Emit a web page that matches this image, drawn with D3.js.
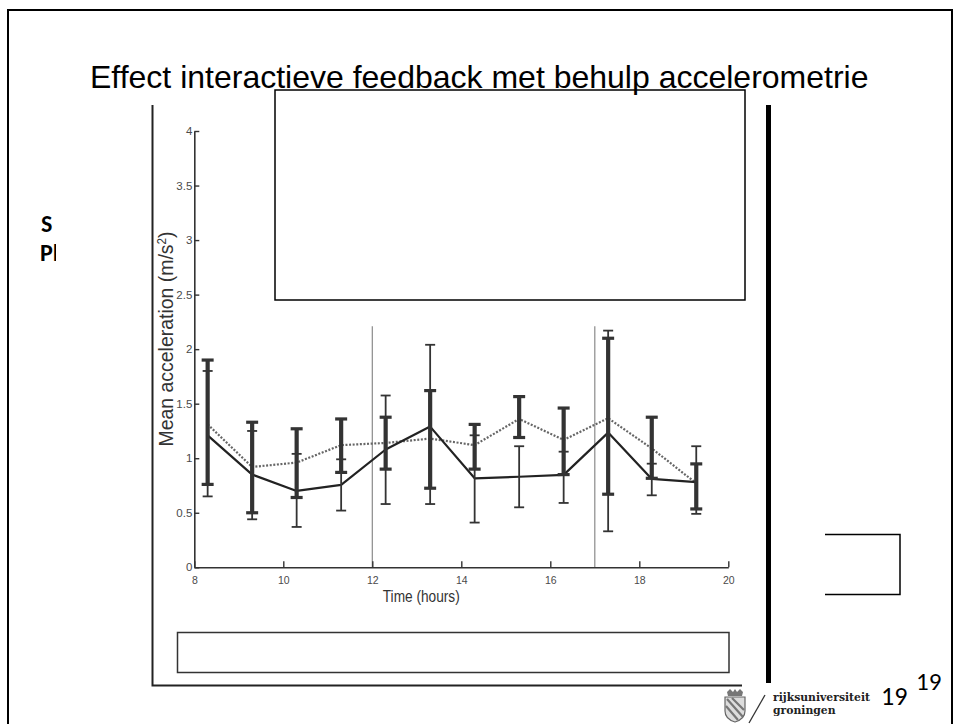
<!DOCTYPE html>
<html>
<head>
<meta charset="utf-8">
<script src="https://cdn.jsdelivr.net/npm/d3@7"></script>
<style>
  html, body { margin: 0; padding: 0; background: #fff; }
  svg { display: block; }
</style>
</head>
<body>
<svg id="slide" width="954" height="724"></svg>
<script>
// Measurement times (hours of the day)
const hours = [8.3, 9.3, 10.3, 11.3, 12.3, 13.3, 14.3, 15.3, 16.3, 17.3, 18.28, 19.28];

// Solid series: mean acceleration with thin error bars
const solidMean = [1.21, 0.85, 0.70, 0.755, 1.08, 1.29, 0.816, 0.83, 0.847, 1.235, 0.81, 0.78];
const solidLow  = [0.65, 0.44, 0.37, 0.52, 0.58, 0.58, 0.41, 0.55, 0.59, 0.33, 0.66, 0.49];
const solidHigh = [1.80, 1.25, 1.04, 0.99, 1.575, 2.04, 1.21, 1.11, 1.06, 2.17, 0.95, 1.11];

// Dotted series: mean acceleration with heavy error bars
const dottedMean = [1.31, 0.92, 0.96, 1.12, 1.14, 1.18, 1.12, 1.36, 1.168, 1.367, 1.09, 0.77];
const dottedLow  = [0.76, 0.50, 0.64, 0.87, 0.90, 0.725, 0.90, 1.19, 0.85, 0.67, 0.816, 0.535];
const dottedHigh = [1.90, 1.33, 1.27, 1.36, 1.376, 1.62, 1.31, 1.565, 1.46, 2.10, 1.376, 0.948];

// Feedback moments marked by vertical lines
const markerHours = [12, 17];

// Axis ticks
const xTicks = [8, 10, 12, 14, 16, 18, 20];
const xTickLabels = ["8", "10", "12", "14", "16", "18", "20"];
const yTicks = [0, 0.5, 1, 1.5, 2, 2.5, 3, 3.5, 4];
const yTickLabels = ["0", "0.5", "1", "1.5", "2", "2.5", "3", "3.5", "4"];

const svg = d3.select("#slide");
const SANS = "'Liberation Sans', Arial, Helvetica, sans-serif";
const BODY = "Carlito, 'Open Sans', sans-serif";

// slide frame
svg.append("rect").attr("x", 8).attr("y", 10).attr("width", 944).attr("height", 800)
  .attr("fill", "#fff").attr("stroke", "#000").attr("stroke-width", 2);

// partially hidden bullet text on the left
const clip = svg.append("defs").append("clipPath").attr("id", "leftclip");
clip.append("rect").attr("x", 0).attr("y", 0).attr("width", 56).attr("height", 724);
const leftText = svg.append("g").attr("clip-path", "url(#leftclip)")
  .attr("font-family", BODY).attr("font-weight", "bold")
  .attr("font-size", 24).attr("fill", "#000");
leftText.append("text").attr("x", 41).attr("y", 232).text("S");
leftText.append("text").attr("x", 40).attr("y", 261).text("Pl");

// chart scales
const x = d3.scaleLinear().domain([8, 20]).range([194.3, 728.3]);
const y = d3.scaleLinear().domain([0, 4]).range([567.3, 131]);

const plot = svg.append("g");

// figure frame (left edge and bottom edge)
plot.append("path").attr("d", "M152.5,105 V685.5 H742")
  .attr("fill", "none").attr("stroke", "#222").attr("stroke-width", 2);

// vertical marker lines
plot.selectAll("line.marker").data(markerHours).join("line")
  .attr("class", "marker")
  .attr("x1", d => x(d)).attr("x2", d => x(d))
  .attr("y1", y(2.21)).attr("y2", y(0))
  .attr("stroke", "#8a8a8a").attr("stroke-width", 1.2);

// axes
const xAxis = d3.axisBottom(x).tickValues(xTicks)
  .tickFormat((d, i) => xTickLabels[i]).tickSizeInner(-6).tickSizeOuter(0).tickPadding(9);
const gx = plot.append("g").attr("transform", `translate(0,${y(0)})`).call(xAxis);
const yAxis = d3.axisLeft(y).tickValues(yTicks)
  .tickFormat((d, i) => yTickLabels[i]).tickSizeInner(-5).tickSizeOuter(0).tickPadding(4);
const gy = plot.append("g").attr("transform", `translate(${x(8)},0)`).call(yAxis);

[gx, gy].forEach(g => {
  g.select(".domain").attr("stroke", "#333").attr("stroke-width", 1.6);
  g.selectAll(".tick line").attr("stroke", "#333").attr("stroke-width", 1.4);
  g.selectAll(".tick text").attr("font-family", SANS).attr("fill", "#4a4a4a");
});
gx.selectAll(".tick text").attr("font-size", 10.5);
gy.selectAll(".tick text").attr("font-size", 11.5).attr("dx", 2);

// axis titles
plot.append("text")
  .attr("x", (x(13.1))).attr("y", 602)
  .attr("text-anchor", "middle")
  .attr("font-family", SANS).attr("font-size", 16).attr("fill", "#333")
  .attr("textLength", 77).attr("lengthAdjust", "spacingAndGlyphs")
  .text("Time (hours)");

const yl = plot.append("text")
  .attr("transform", "translate(172.5,339) rotate(-90)")
  .attr("text-anchor", "middle")
  .attr("font-family", SANS).attr("font-size", 20).attr("fill", "#333")
  .attr("textLength", 215).attr("lengthAdjust", "spacingAndGlyphs");
yl.append("tspan").text("Mean acceleration (m/s");
yl.append("tspan").attr("font-size", 12).attr("dy", -7).text("2");
yl.append("tspan").attr("dy", 7).text(")");

// mean lines
const line = d3.line().x(d => x(d[0])).y(d => y(d[1]));
plot.append("path").datum(hours.map((h, i) => [h, dottedMean[i]]))
  .attr("d", line).attr("fill", "none")
  .attr("stroke", "#666").attr("stroke-width", 2.2).attr("stroke-dasharray", "2,1.6");
plot.append("path").datum(hours.map((h, i) => [h, solidMean[i]]))
  .attr("d", line).attr("fill", "none")
  .attr("stroke", "#222").attr("stroke-width", 2.2).attr("stroke-linejoin", "round");

// error bars
function errorBars(lo, hi, cls, barW, capW, capH) {
  const data = hours.map((h, i) => ({ h, lo: lo[i], hi: hi[i] }));
  const g = plot.append("g").attr("class", cls).attr("stroke", "#333");
  g.selectAll("line.bar").data(data).join("line").attr("class", "bar")
    .attr("x1", d => x(d.h)).attr("x2", d => x(d.h))
    .attr("y1", d => y(d.lo)).attr("y2", d => y(d.hi))
    .attr("stroke-width", barW);
  ["lo", "hi"].forEach(k => {
    g.selectAll("line.cap-" + k).data(data).join("line").attr("class", "cap-" + k)
      .attr("x1", d => x(d.h) - capW / 2).attr("x2", d => x(d.h) + capW / 2)
      .attr("y1", d => y(d[k])).attr("y2", d => y(d[k]))
      .attr("stroke-width", capH);
  });
}
errorBars(solidLow, solidHigh, "thin", 1.8, 10, 1.8);
errorBars(dottedLow, dottedHigh, "thick", 4.2, 12, 3.2);

// overlay boxes on the slide
svg.append("rect").attr("x", 275).attr("y", 90).attr("width", 470).attr("height", 210)
  .attr("fill", "#fff").attr("stroke", "#000").attr("stroke-width", 1.5);
svg.append("rect").attr("x", 177.5).attr("y", 632.5).attr("width", 551.5).attr("height", 40)
  .attr("fill", "#fff").attr("stroke", "#333").attr("stroke-width", 1.5);
svg.append("path").attr("d", "M825,534.5 H900 V594.5 H825")
  .attr("fill", "none").attr("stroke", "#000").attr("stroke-width", 1.5);

// thick vertical rule on the right
svg.append("rect").attr("x", 766).attr("y", 105).attr("width", 5).attr("height", 578).attr("fill", "#000");

// slide title
svg.append("text").attr("x", 90).attr("y", 88)
  .attr("font-family", SANS).attr("font-size", 32).attr("fill", "#000")
  .text("Effect interactieve feedback met behulp accelerometrie");

// footer: university mark
const logo = svg.append("g").attr("transform", "translate(724,689)");
logo.append("path")
  .attr("d", "M3,3 L6,0 L9,3 L11,0 L13,3 L16,0 L19,3 L18,7 L4,7 Z")
  .attr("fill", "#777");
logo.append("path")
  .attr("d", "M1,8 H21 V22 Q21,30 11,33 Q1,30 1,22 Z")
  .attr("fill", "#ddd").attr("stroke", "#666").attr("stroke-width", 1.2);
logo.append("path").attr("d", "M3,10 L19,28 M8,9 L20,21 M2,17 L14,31")
  .attr("stroke", "#777").attr("stroke-width", 2.2);
svg.append("line").attr("x1", 749).attr("y1", 723).attr("x2", 765).attr("y2", 695)
  .attr("stroke", "#333").attr("stroke-width", 1.3);
svg.append("text").attr("x", 773).attr("y", 700.5)
  .attr("font-family", "'DejaVu Serif', 'Liberation Serif', serif").attr("font-size", 10.8)
  .attr("font-weight", "bold").attr("fill", "#222").text("rijksuniversiteit");
svg.append("text").attr("x", 773).attr("y", 714)
  .attr("font-family", "'DejaVu Serif', 'Liberation Serif', serif").attr("font-size", 10.8)
  .attr("font-weight", "bold").attr("fill", "#222").text("groningen");
svg.append("text").attr("x", 881).attr("y", 705)
  .attr("font-family", BODY).attr("font-size", 26).attr("fill", "#000").text("19");
svg.append("text").attr("x", 916).attr("y", 690)
  .attr("font-family", BODY).attr("font-size", 25).attr("fill", "#000").text("19");
</script>
</body>
</html>
